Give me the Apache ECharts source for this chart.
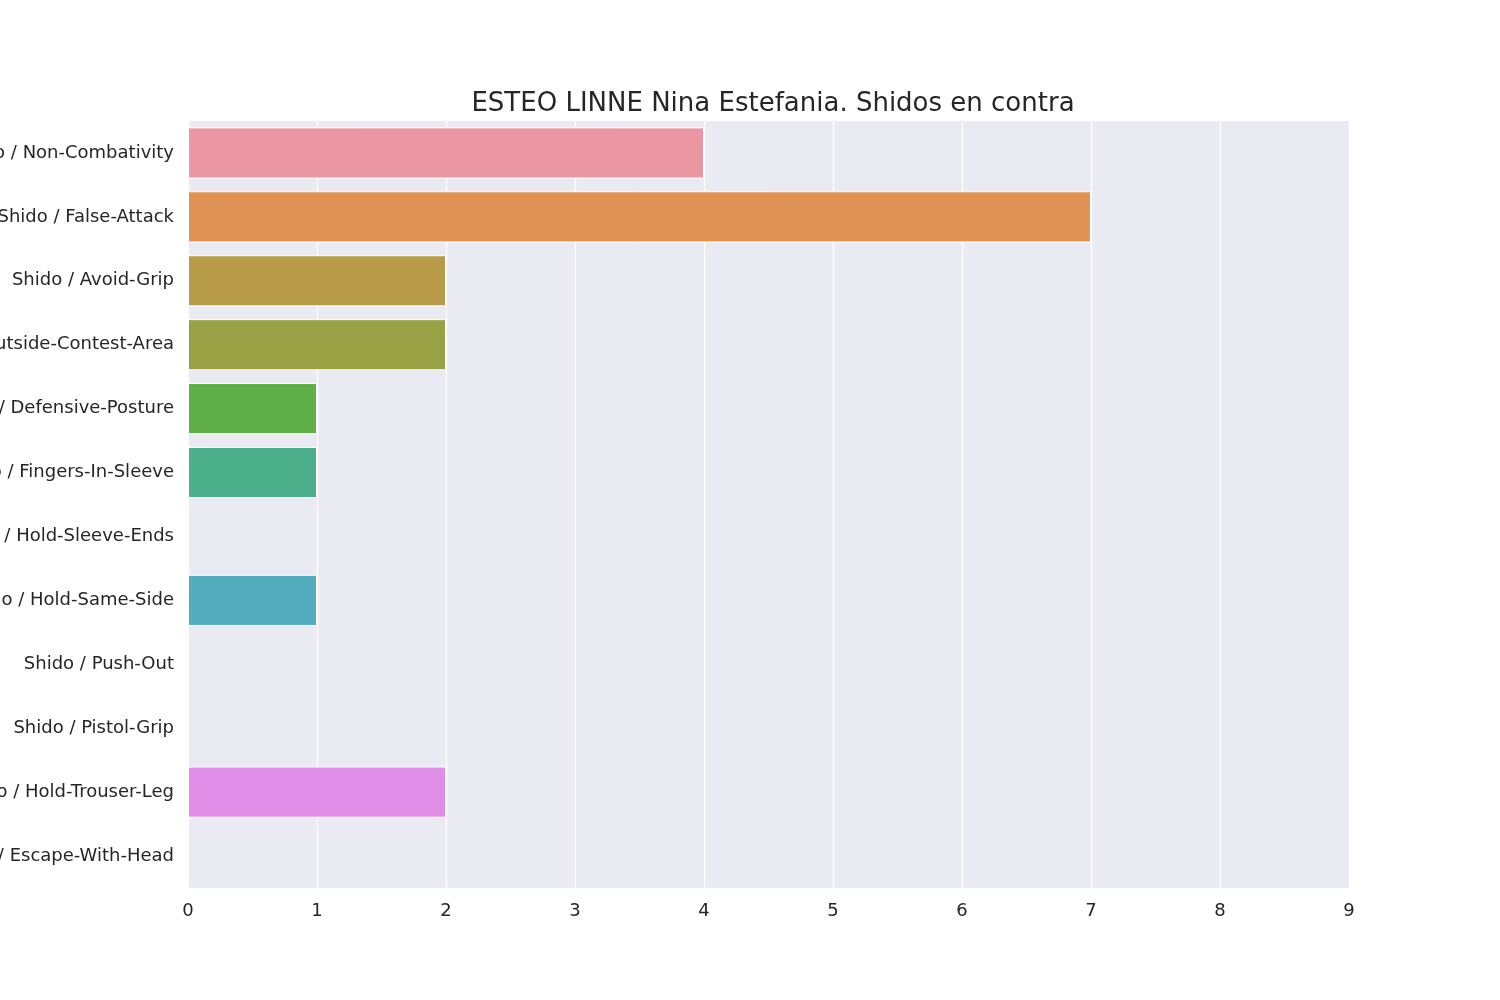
<!DOCTYPE html>
<html>
<head>
<meta charset="utf-8">
<script src="https://cdn.jsdelivr.net/npm/echarts@6/dist/echarts.min.js"></script>
<style>html,body{margin:0;padding:0;background:#fff}#chart{width:1500px;height:1000px}</style>
</head>
<body>
<div id="chart"></div>
<script>
// Shido categories, top to bottom
var categories = [
  "Shido / Non-Combativity",
  "Shido / False-Attack",
  "Shido / Avoid-Grip",
  "Shido / Outside-Contest-Area",
  "Shido / Defensive-Posture",
  "Shido / Fingers-In-Sleeve",
  "Shido / Hold-Sleeve-Ends",
  "Shido / Hold-Same-Side",
  "Shido / Push-Out",
  "Shido / Pistol-Grip",
  "Shido / Hold-Trouser-Leg",
  "Shido / Escape-With-Head"
];
var counts = [4, 7, 2, 2, 1, 1, 0, 1, 0, 0, 2, 0];
var palette = ["#ea96a3", "#e09255", "#b89c4a", "#98a245", "#60ae47", "#4aaf8a",
               "#4cab9f", "#52acbe", "#6fa6e0", "#a99ae9", "#df8de6", "#e88fc2"];
var xTicks = [0, 9, 1];

var chart = echarts.init(document.getElementById("chart"));
chart.setOption({
  backgroundColor: "#ffffff",
  textStyle: { fontFamily: "DejaVu Sans" },
  title: {
    text: "ESTEO LINNE Nina Estefania. Shidos en contra",
    left: 768, top: 86, textAlign: "center",
    textStyle: { fontSize: 26, fontWeight: "normal", color: "#262626", fontFamily: "DejaVu Sans" }
  },
  grid: { left: 188, right: 151, top: 121, bottom: 112, containLabel: false, outerBoundsMode: "none",
          backgroundColor: "#eaeaf2", show: true, borderWidth: 0 },
  xAxis: {
    type: "value", min: xTicks[0], max: xTicks[1], interval: xTicks[2],
    axisLine: { show: false }, axisTick: { show: false },
    splitLine: { lineStyle: { color: "#ffffff", width: 1.3 } },
    axisLabel: { fontSize: 18, color: "#262626", margin: 14 }
  },
  yAxis: {
    type: "category", data: categories, inverse: true,
    axisLine: { show: false }, axisTick: { show: false },
    splitLine: { show: false },
    axisLabel: { fontSize: 18, color: "#262626", margin: 14 }
  },
  series: [{
    type: "bar",
    data: counts.map(function (v, i) { return { value: v, itemStyle: { color: palette[i] } }; }),
    barCategoryGap: "20%",
    itemStyle: { borderColor: "#ffffff", borderWidth: 1 },
    silent: true
  }]
});
</script>
</body>
</html>
